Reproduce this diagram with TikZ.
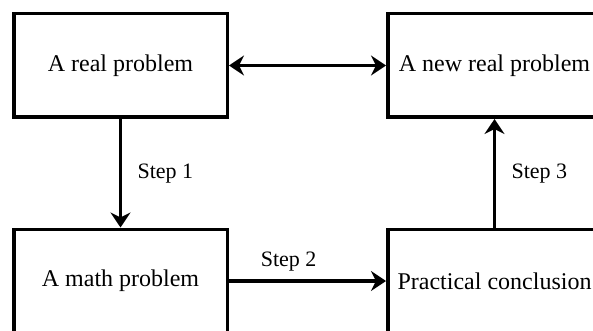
\documentclass[tikz,border=0pt]{standalone}
\usepackage{fontspec}
\setmainfont{Liberation Serif}
\usetikzlibrary{arrows.meta}
\begin{document}
\begin{tikzpicture}[x=1pt, y=1pt]
	\tikzset{boite/.style={rectangle, draw=black, line width=3.5pt, minimum width=213.5pt, minimum height=103.5pt, font=\fontsize{24}{28}\selectfont},
		pointe/.tip={Stealth[length=15pt, width=20pt, inset=5pt]},
		fleche/.style={line width=3.5pt, -pointe},
		etiq/.style={font=\fontsize{22}{26}\selectfont}};

	\clip (0,0) rectangle (593,-331);

	\node[boite] (reel) at (120.5, -65.5) {A real problem};
	\node[boite] (nouveau) at (494.5, -65.5) {A new real problem};
	\node[boite] (math) at (120.5, -281) {A math problem};
	\node[boite] (concl) at (494.5, -281) {Practical conclusion};

	\draw[fleche, pointe-pointe] (reel) -- (nouveau);
	\draw[fleche] (reel) to node[right=12pt, etiq] {Step 1} (math);
	\draw[fleche] (math) to node[pos=0.38, above=5pt, etiq] {Step 2} (concl);
	\draw[fleche] (concl) to node[right=12pt, etiq] {Step 3} (nouveau);

\end{tikzpicture}
\end{document}
